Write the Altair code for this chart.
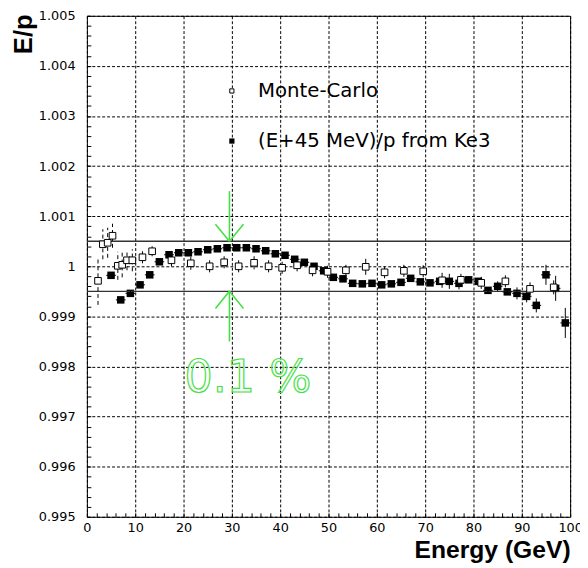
import altair as alt
import pandas as pd

# ---- data ----
mc_x = [2.3, 3.3, 4.3, 5.3, 6.4, 7.3, 8.3, 9.4, 11.5, 13.5, 17.5, 21.5, 25.4, 28.4,
        31.4, 34.6, 37.6, 40.4, 43.5, 46.7, 49.8, 53.6, 57.7, 61.6, 65.6, 69.6, 73.5,
        77.4, 81.6, 86.6, 91.7, 96.6]
mc_y = [0.99971, 1.00044, 1.00047, 1.00061, 1.00001, 1.00003, 1.00012, 1.00012, 1.00018,
        1.00030, 1.00012, 1.00006, 1.00000, 1.00008, 1.00000, 1.00007, 1.00000, 0.99997,
        1.00002, 0.99992, 0.99989, 0.99992, 0.99999, 0.99988, 0.99991, 0.99990, 0.99972,
        0.99973, 0.99967, 0.99970, 0.99955, 0.99958]
mc_err = [0.00048, 0.00030, 0.00030, 0.00024, 0.00028, 0.00025, 0.00020, 0.00022, 0.00012,
          0.00010, 0.00012, 0.00013, 0.00012, 0.00012, 0.00012, 0.00013, 0.00012, 0.00012,
          0.00012, 0.00012, 0.00012, 0.00011, 0.00016, 0.00012, 0.00012, 0.00012, 0.00015,
          0.00012, 0.00012, 0.00012, 0.00013, 0.00014]

ke3_x = [5, 7, 9, 11, 13, 15, 17, 19, 21, 23, 25, 27, 29, 31, 33, 35, 37, 39, 41, 43, 45,
         47, 49, 51, 53, 55, 57, 59, 61, 63, 65, 67, 69, 71, 73, 75, 77, 79, 81, 83, 85, 87,
         89, 91, 93, 95, 97, 99]
ke3_y = [0.99982, 0.99933, 0.99946, 0.99963, 0.99983, 1.00009, 1.00023, 1.00027, 1.00027,
         1.00029, 1.00033, 1.00035, 1.00037, 1.00037, 1.00037, 1.00035, 1.00031, 1.00025,
         1.00022, 1.00014, 1.00008, 1.00000, 0.99991, 0.99978, 0.99975, 0.99966, 0.99965,
         0.99966, 0.99963, 0.99965, 0.99968, 0.99976, 0.99969, 0.99967, 0.99970, 0.99970,
         0.99966, 0.99973, 0.99970, 0.99952, 0.99960, 0.99949, 0.99946, 0.99940, 0.99922,
         0.99983, 0.99956, 0.99887]
ke3_err = [0.00005, 0.00005, 0.00005, 0.00005, 0.00005, 0.00005, 0.00005, 0.00005, 0.00005,
           0.00005, 0.00005, 0.00005, 0.00005, 0.00005, 0.00005, 0.00005, 0.00005, 0.00005,
           0.00005, 0.00005, 0.00005, 0.00005, 0.00005, 0.00005, 0.00005, 0.00005, 0.00005,
           0.00005, 0.00005, 0.00005, 0.00005, 0.00005, 0.00005, 0.00005, 0.00005, 0.00015,
           0.00012, 0.00005, 0.00006, 0.00006, 0.00010, 0.00006, 0.00012, 0.00012, 0.00014,
           0.00020, 0.00025, 0.00030]
ke3_halfbin = 1.0

band_y = [1.0005, 0.9995]

x_major = [0, 10, 20, 30, 40, 50, 60, 70, 80, 90, 100]
y_major = [0.995, 0.996, 0.997, 0.998, 0.999, 1.0, 1.001, 1.002, 1.003, 1.004, 1.005]
x_minor = [2 * i for i in range(51)]
y_minor = [round(0.995 + 0.0002 * i, 4) for i in range(51)]

legend_labels = ["Monte-Carlo", "(E+45 MeV)/p from Ke3"]
legend_y = [1.0035, 1.0025]
legend_marker_x = 30
legend_text_x = 35.4

# arrows for the 0.1 % band (data units)
arrow_x = 29.5
arrow_segments = pd.DataFrame({
    "x":  [arrow_x, 26.6, 32.4, arrow_x, 26.6, 32.4],
    "y":  [1.0015, 1.00084, 1.00084, 0.9985, 0.99916, 0.99916],
    "x2": [arrow_x, arrow_x, arrow_x, arrow_x, arrow_x, arrow_x],
    "y2": [1.0005, 1.0005, 1.0005, 0.9995, 0.9995, 0.9995],
})
pct_text = "0.1 %"
pct_pos = (20.2, 0.99750)

# ---- tables ----
mc = pd.DataFrame({"x": mc_x, "y": mc_y, "err": mc_err})
mc["lo"] = mc["y"] - mc["err"]
mc["hi"] = mc["y"] + mc["err"]
ke = pd.DataFrame({"x": ke3_x, "y": ke3_y, "err": ke3_err})
ke["lo"] = ke["y"] - ke["err"]
ke["hi"] = ke["y"] + ke["err"]
ke["xl"] = ke["x"] - ke3_halfbin
ke["xh"] = ke["x"] + ke3_halfbin

W, H = 490, 508
green = "#44e044"

xs = alt.Scale(domain=[0, 100], nice=False, zero=False)
ys = alt.Scale(domain=[0.995, 1.005], nice=False, zero=False)

x_main = alt.Axis(orient="bottom", values=x_major, grid=True, gridDash=[3, 2],
                  gridColor="black", gridOpacity=1, gridWidth=1, ticks=False, domain=False,
                  labelFont="DejaVu Sans", labelFontSize=13, labelColor="black",
                  labelPadding=5, labelFlush=False,
                  title="Energy (GeV)", titleFont="Liberation Sans", titleFontSize=25,
                  titleFontWeight="bold", titleColor="black", titleAlign="right",
                  titleBaseline="alphabetic", titleX=W, titleY=41)
y_main = alt.Axis(orient="left", values=y_major, grid=True, gridDash=[3, 2],
                  gridColor="black", gridOpacity=1, gridWidth=1, ticks=False, domain=False,
                  labelFont="DejaVu Sans", labelFontSize=13, labelColor="black",
                  labelPadding=12, labelFlush=False,
                  labelExpr="datum.value == 1 ? '1' : format(datum.value, '.3f')",
                  title="E/p", titleFont="Liberation Sans", titleFontSize=26,
                  titleFontWeight="bold", titleColor="black", titleAngle=270,
                  titleAlign="right", titleBaseline="alphabetic", titleX=-56, titleY=-2)
x_min_ax = alt.Axis(orient="top", offset=-H, values=x_minor, ticks=True, tickSize=4,
                    tickColor="black", tickWidth=1, labels=False, domain=False,
                    grid=False, title=None)
y_min_ax = alt.Axis(orient="right", offset=-W, values=y_minor, ticks=True, tickSize=4,
                    tickColor="black", tickWidth=1, labels=False, domain=False,
                    grid=False, title=None)

# Ke3 filled squares (carry main axes)
ke_pts = alt.Chart(ke).mark_point(shape="square", filled=True, color="black", size=58,
                                  opacity=1).encode(
    x=alt.X("x:Q", scale=xs, axis=x_main),
    y=alt.Y("y:Q", scale=ys, axis=y_main))
ke_xbar = alt.Chart(ke).mark_rule(color="black", strokeWidth=1).encode(
    x=alt.X("xl:Q", scale=xs, axis=None), x2="xh:Q",
    y=alt.Y("y:Q", scale=ys, axis=None))
ke_ybar = alt.Chart(ke).mark_rule(color="black", strokeWidth=1).encode(
    x=alt.X("x:Q", scale=xs, axis=None),
    y=alt.Y("lo:Q", scale=ys, axis=None), y2="hi:Q")

# MC open squares (carry minor tick axes)
mc_pts = alt.Chart(mc).mark_point(shape="square", filled=True, fill="white",
                                  stroke="black", strokeWidth=1, size=45,
                                  opacity=1).encode(
    x=alt.X("x:Q", scale=xs, axis=x_min_ax),
    y=alt.Y("y:Q", scale=ys, axis=y_min_ax))
mc_bar_dash = alt.Chart(mc).transform_filter("datum.x < 10").mark_rule(
    color="black", strokeWidth=1, strokeDash=[4, 3]).encode(
    x=alt.X("x:Q", scale=xs, axis=None),
    y=alt.Y("lo:Q", scale=ys, axis=None), y2="hi:Q")
mc_bar = alt.Chart(mc).transform_filter("datum.x >= 10").mark_rule(
    color="black", strokeWidth=1).encode(
    x=alt.X("x:Q", scale=xs, axis=None),
    y=alt.Y("lo:Q", scale=ys, axis=None), y2="hi:Q")

bands = alt.Chart(pd.DataFrame({"y": band_y})).mark_rule(
    color="#333333", strokeWidth=1.4).encode(
    y=alt.Y("y:Q", scale=ys, axis=None))

arrows = alt.Chart(arrow_segments).mark_rule(color=green, strokeWidth=1.6).encode(
    x=alt.X("x:Q", scale=xs, axis=None), x2="x2:Q",
    y=alt.Y("y:Q", scale=ys, axis=None), y2="y2:Q")

pct = alt.Chart(pd.DataFrame({"x": [pct_pos[0]], "y": [pct_pos[1]], "t": [pct_text]})).mark_text(
    font="DejaVu Sans", fontSize=45, align="left", baseline="alphabetic",
    fillOpacity=0, stroke=green, strokeWidth=1.2).encode(
    x=alt.X("x:Q", scale=xs, axis=None),
    y=alt.Y("y:Q", scale=ys, axis=None), text="t:N")

leg = pd.DataFrame({"label": legend_labels, "y": legend_y,
                    "mx": [legend_marker_x] * 2, "tx": [legend_text_x] * 2})
leg_open = alt.Chart(leg.iloc[[0]]).mark_point(shape="square", filled=True, fill="white",
                                               stroke="black", strokeWidth=1, size=18,
                                               opacity=1).encode(
    x=alt.X("mx:Q", scale=xs, axis=None), y=alt.Y("y:Q", scale=ys, axis=None))
leg_fill = alt.Chart(leg.iloc[[1]]).mark_point(shape="square", filled=True, color="black",
                                               size=28, opacity=1).encode(
    x=alt.X("mx:Q", scale=xs, axis=None), y=alt.Y("y:Q", scale=ys, axis=None))
leg_text = alt.Chart(leg).mark_text(font="DejaVu Sans", fontSize=20, fontWeight="normal",
                                    align="left", baseline="middle", color="black").encode(
    x=alt.X("tx:Q", scale=xs, axis=None), y=alt.Y("y:Q", scale=ys, axis=None),
    text="label:N")

chart = alt.layer(
    ke_pts, bands, arrows, pct, mc_bar_dash, mc_bar, ke_xbar, ke_ybar, mc_pts,
    leg_open, leg_fill, leg_text
).resolve_axis(x="independent", y="independent").properties(
    width=W, height=H, autosize="none",
    padding={"left": 80, "top": 4, "right": 10, "bottom": 48},
    background="white"
).configure_view(stroke="black", strokeWidth=1)

chart.save("out.html", embed_options={"renderer": "svg", "actions": False})
